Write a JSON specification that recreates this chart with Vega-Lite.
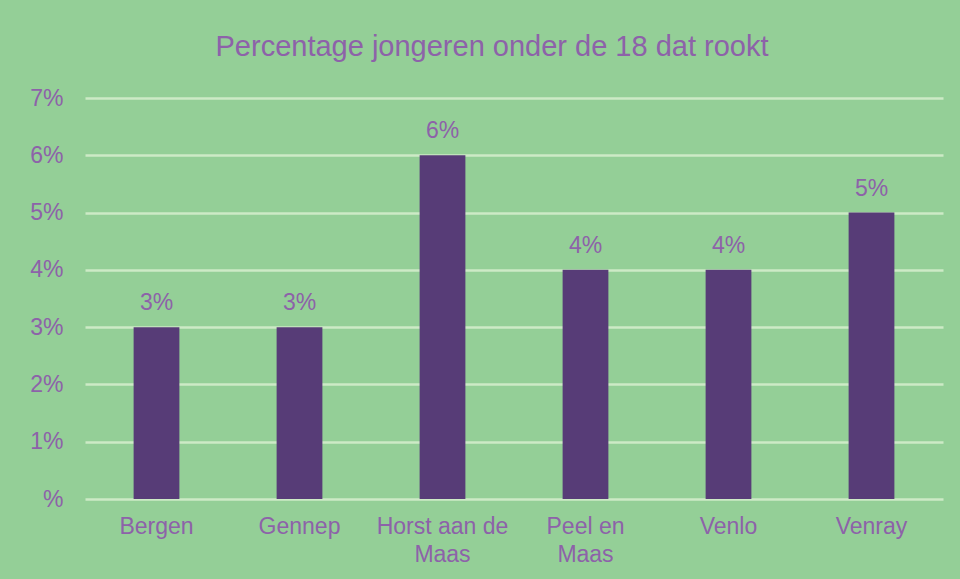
{
  "$schema": "https://vega.github.io/schema/vega-lite/v6.json",
  "width": 858,
  "height": 401,
  "autosize": {"type": "none"},
  "padding": {"left": 85, "top": 98, "right": 17, "bottom": 80},
  "background": "#94cf97",
  "title": {
    "text": "Percentage jongeren onder de 18 dat rookt",
    "font": "Liberation Sans",
    "fontSize": 29,
    "fontWeight": "normal",
    "color": "#8d62a9",
    "anchor": "middle",
    "dx": -22,
    "offset": 25
  },
  "data": {
    "values": [
      {"gemeente": "Bergen", "percentage": 0.03},
      {"gemeente": "Gennep", "percentage": 0.03},
      {"gemeente": "Horst aan de Maas", "percentage": 0.06},
      {"gemeente": "Peel en Maas", "percentage": 0.04},
      {"gemeente": "Venlo", "percentage": 0.04},
      {"gemeente": "Venray", "percentage": 0.05}
    ]
  },
  "encoding": {
    "x": {
      "field": "gemeente",
      "type": "nominal",
      "sort": null,
      "scale": {"paddingInner": 0.68, "paddingOuter": 0.34},
      "axis": {
        "title": null,
        "labelAngle": 0,
        "labelFont": "Liberation Sans",
        "labelFontSize": 23,
        "labelColor": "#8d62a9",
        "labelPadding": 16,
        "labelLineHeight": 28,
        "labelOverlap": false,
        "domain": false,
        "ticks": false,
        "labelExpr": "datum.label == 'Horst aan de Maas' ? ['Horst aan de', 'Maas'] : datum.label == 'Peel en Maas' ? ['Peel en', 'Maas'] : datum.label"
      }
    },
    "y": {
      "field": "percentage",
      "type": "quantitative",
      "scale": {"domain": [0, 0.07]},
      "axis": {
        "title": null,
        "values": [0, 0.01, 0.02, 0.03, 0.04, 0.05, 0.06, 0.07],
        "labelOverlap": false,
        "labelFont": "Liberation Sans",
        "labelFontSize": 23,
        "labelColor": "#8d62a9",
        "labelPadding": 22,
        "domain": false,
        "ticks": false,
        "grid": true,
        "gridColor": "#cdeac6",
        "gridWidth": 2.5,
        "labelExpr": "datum.value == 0 ? '%' : format(datum.value, '.0%')"
      }
    }
  },
  "layer": [
    {"mark": {"type": "bar", "color": "#573c77"}},
    {
      "mark": {
        "type": "text",
        "baseline": "bottom",
        "dy": -12,
        "font": "Liberation Sans",
        "fontSize": 23,
        "color": "#8d62a9"
      },
      "encoding": {"text": {"field": "percentage", "type": "quantitative", "format": ".0%"}}
    }
  ],
  "config": {"view": {"stroke": null}}
}
